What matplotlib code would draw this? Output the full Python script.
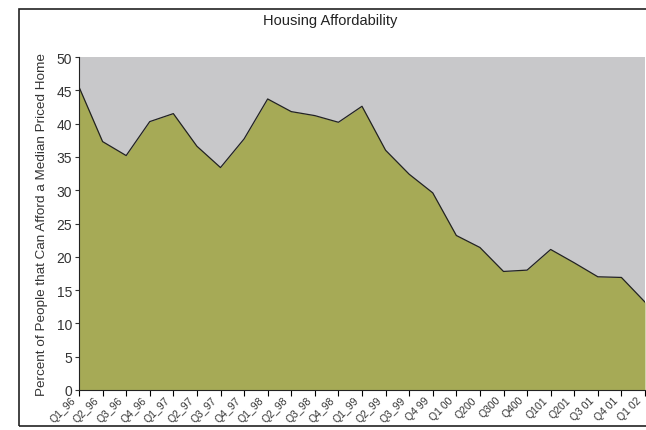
import matplotlib
matplotlib.use('Agg')
import matplotlib.pyplot as plt
from matplotlib.patches import Rectangle
from matplotlib.transforms import ScaledTranslation

plt.rcParams['font.family'] = ['Liberation Sans', 'DejaVu Sans']

quarters = ['Q1_96', 'Q2_96', 'Q3_96', 'Q4_96', 'Q1_97', 'Q2_97', 'Q3_97', 'Q4_97',
            'Q1_98', 'Q2_98', 'Q3_98', 'Q4_98', 'Q1_99', 'Q2_99', 'Q3_99', 'Q4 99',
            'Q1 00', 'Q200', 'Q300', 'Q400', 'Q101', 'Q201', 'Q3 01', 'Q4 01', 'Q1 02']

afford = [45.5, 37.3, 35.2, 40.3, 41.5, 36.6, 33.4, 37.7,
          43.7, 41.8, 41.2, 40.2, 42.6, 36.0, 32.4, 29.6,
          23.2, 21.4, 17.8, 18.0, 21.1, 19.1, 17.0, 16.9, 13.2]

fig = plt.figure(figsize=(6.46, 4.31), dpi=100)
ax = fig.add_axes([79/646, 1-391/431, 566/646, 333/431])

x = range(len(quarters))
ax.set_facecolor('#c8c8ca')
ax.fill_between(x, afford, 0, color='#a6aa56', linewidth=0)
ax.plot(x, afford, color='#222222', linewidth=0.9)

ax.set_xlim(0, len(quarters) - 1)
ax.set_ylim(0, 50)
ax.set_yticks(range(0, 51, 5))
ax.set_xticks(list(x))
ax.set_xticklabels([])
ax.tick_params(axis='y', labelsize=10, colors='#333333', length=3, pad=2)
ax.tick_params(axis='x', length=4)

# slanted quarter labels, nudged a bit left of each tick like the original
lab_trans = ax.get_xaxis_transform() + ScaledTranslation(-5/100, -8/100, fig.dpi_scale_trans)
for i, q in zip(x, quarters):
    ax.text(i, 0, q, transform=lab_trans, rotation=45, rotation_mode='anchor',
            ha='right', va='center', fontsize=7.5, color='#333333', clip_on=False)

for s in ['top', 'right']:
    ax.spines[s].set_visible(False)
ax.spines['left'].set_color('#222222')
ax.spines['bottom'].set_color('#222222')

ax.set_ylabel('Percent of People that Can Afford a Median Priced Home',
              fontsize=9.7, color='#333333', labelpad=6)
fig.text(0.511, 1-21/431, 'Housing Affordability', ha='center', va='center',
         fontsize=10.5, color='#222222')

# outer chart frame, runs past the right edge
frame = Rectangle((19/646, 1-427/431), 700/646, 417/431,
                  transform=fig.transFigure, fill=False,
                  edgecolor='#222222', linewidth=1.2, clip_on=False)
fig.patches.append(frame)

fig.savefig('out.png', dpi=100)
